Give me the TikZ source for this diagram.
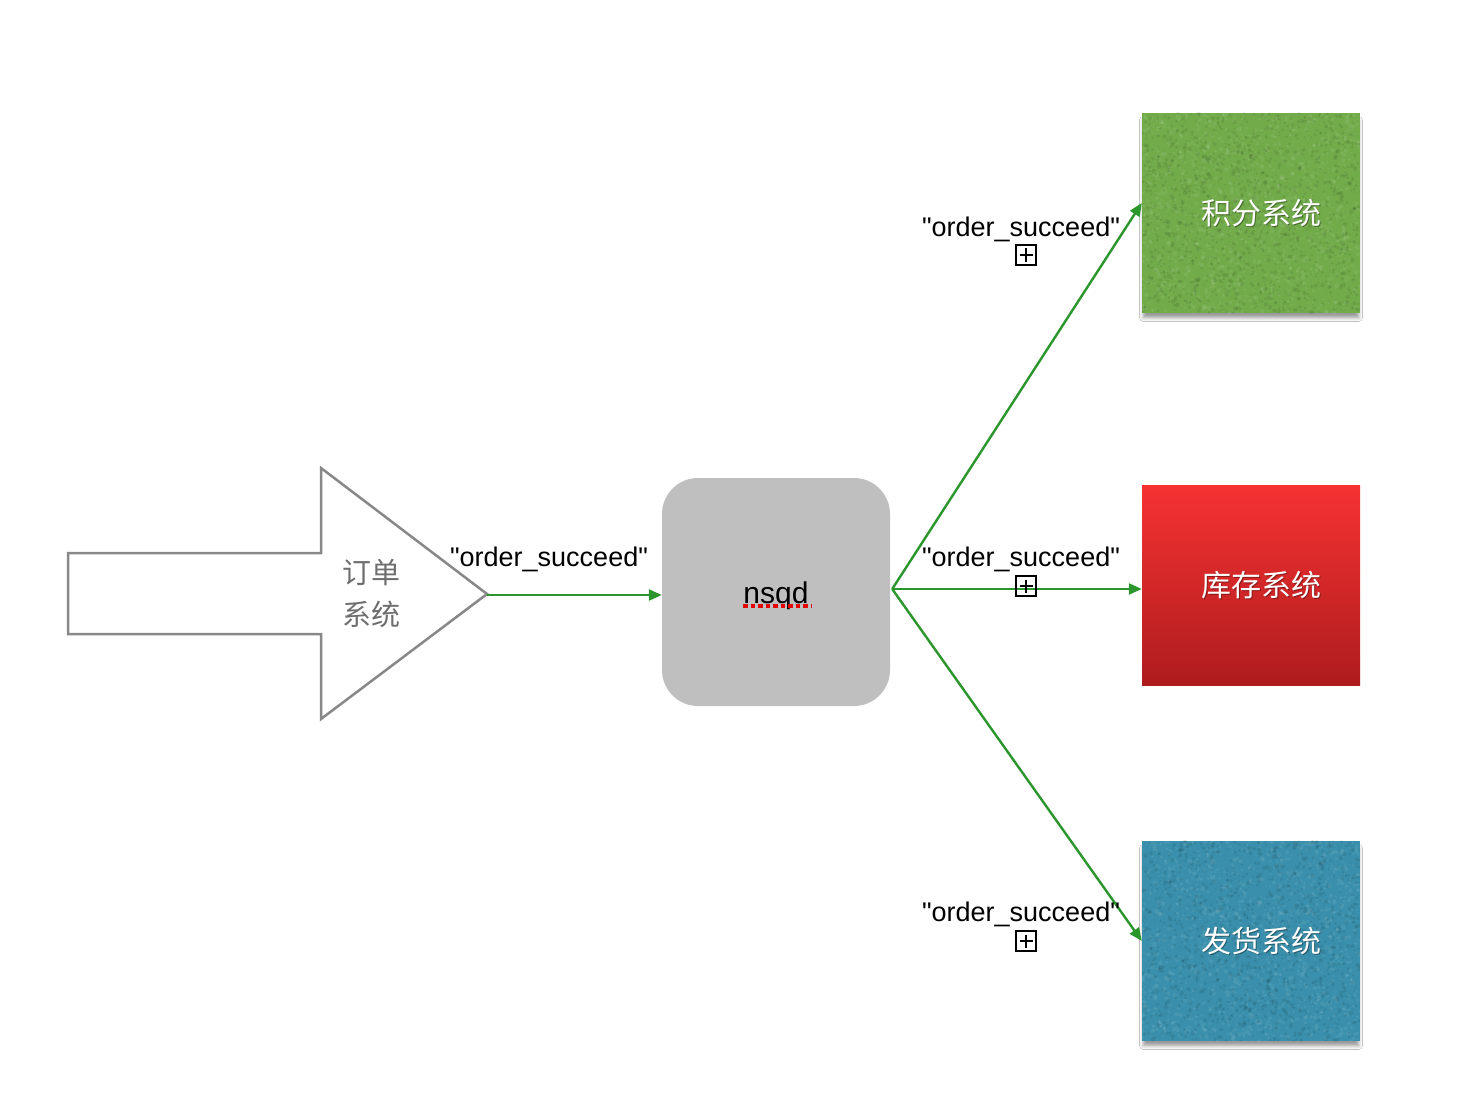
\documentclass[tikz,border=0pt]{standalone}
\usepackage{fontspec}
\setmainfont{Liberation Sans}
\newfontfamily\msgfont{Liberation Sans}
\newfontfamily\cjk{Noto Sans CJK SC}
\usetikzlibrary{arrows.meta,shadows.blur,calc}

\definecolor{flowgreen}{RGB}{42,150,44}
\definecolor{arrowgray}{RGB}{136,136,136}
\definecolor{labelgray}{RGB}{110,110,110}
\definecolor{nsqgray}{RGB}{191,191,191}
\definecolor{pointsgreen}{RGB}{114,172,74}
\definecolor{stockredtop}{RGB}{246,50,50}
\definecolor{stockredbot}{RGB}{174,28,30}
\definecolor{shipblue}{RGB}{58,144,172}

% speckled surface texture clipped to a node
\newcommand\grainfill[1]{%
  \begin{scope}
    \clip (#1.south west) rectangle (#1.north east);
    \foreach \k in {1,...,1400} {
      \pgfmathsetmacro\gx{rnd*218}
      \pgfmathsetmacro\gy{rnd*200}
      \pgfmathsetmacro\gr{0.7+rnd*1.5}
      \fill[black, opacity=0.08] ($(#1.north west)+(\gx,\gy)$) circle (\gr pt);
      \pgfmathsetmacro\hx{rnd*218}
      \pgfmathsetmacro\hy{rnd*200}
      \fill[white, opacity=0.07] ($(#1.north west)+(\hx,\hy)$) circle (\gr pt);
    }
  \end{scope}}

\begin{document}
\begin{tikzpicture}[x=1pt,y=-1pt,
  flow/.style={draw=flowgreen, line width=2.4pt, -{Triangle[length=13pt,width=11pt]}},
  sysbox/.style={minimum width=218pt, minimum height=200pt, inner sep=0pt},
  boxshadow/.style={blur shadow={shadow xshift=0pt, shadow yshift=-6pt, shadow scale=0.99, shadow blur radius=3.5pt, shadow opacity=40}},
  msg/.style={font=\msgfont\fontsize{27}{32}\selectfont, inner sep=0pt},
  plusbox/.style={draw, line width=2pt, minimum size=20pt, inner sep=0pt,
    path picture={\draw[line width=1.6pt] ($(path picture bounding box.center)+(-6.5,0)$) -- ($(path picture bounding box.center)+(6.5,0)$)
                                          ($(path picture bounding box.center)+(0,-6.5)$) -- ($(path picture bounding box.center)+(0,6.5)$);}},
  systext/.style={font=\cjk\fontsize{30}{36}\selectfont, text=white, inner sep=0pt},
  systextshade/.style={font=\cjk\fontsize{30}{36}\selectfont, text=black, opacity=0.35, inner sep=0pt},
]
\useasboundingbox (0,0) rectangle (1462,1110);
\fill[white] (0,0) rectangle (1462,1110);
\pgfmathsetseed{11}

% sending system: big hollow arrow
\draw[draw=arrowgray, line width=2.5pt, fill=white, line join=miter]
  (68,553) -- (321,553) -- (321,468) -- (487,594) -- (321,719) -- (321,634) -- (68,634) -- cycle;
\coordinate (src) at (487,595);
\node[font=\cjk\fontsize{29}{42}\selectfont, text=labelgray, align=center, inner sep=0pt]
  (srclabel) at (371,593) {订单\\系统};

% message queue
\node[fill=nsqgray, rounded corners=36pt, minimum width=228pt, minimum height=228pt, inner sep=0pt] (nsqd) at (776,592) {};
\node[font=\msgfont\fontsize{30}{36}\selectfont, inner sep=0pt] (nsqdtext) at (776,596) {nsqd};
\draw[red!90!black, line width=3.5pt, dash pattern=on 4.5pt off 3pt] (743,606) -- (811,606);

% consumer systems
\node[sysbox, fill=pointsgreen, boxshadow] (jifen) at (1251,213) {};
\grainfill{jifen}
\node[sysbox, top color=stockredtop, bottom color=stockredbot] (kucun) at (1251,585) {};
\node[sysbox, fill=shipblue, boxshadow] (fahuo) at (1251,941) {};
\grainfill{fahuo}

\foreach \n/\t in {jifen/积分系统, kucun/库存系统, fahuo/发货系统} {
  \node[systextshade] at ($(\n.center)+(11,1.5)$) {\t};
  \node[systext] (\n-label) at ($(\n.center)+(10,0)$) {\t};
}

% connectors
\coordinate (hub) at ($(nsqd.east)+(2,-3)$);
\draw[flow] (src) -- (src -| nsqd.west);
\draw[flow] (hub) -- ($(jifen.west)+(0,-10)$);
\draw[flow] (hub) -- (hub -| kucun.west);
\draw[flow] (hub) -- (fahuo.west);

% topic labels
\node[msg] (t0) at (549,559) {"order\_succeed"};
\node[msg] (t1) at (1021,229) {"order\_succeed"};
\node[msg] (t2) at (1021,559) {"order\_succeed"};
\node[msg] (t3) at (1021,914) {"order\_succeed"};
\node[plusbox] (p1) at (1026,255) {};
\node[plusbox] (p2) at (1026,586) {};
\node[plusbox] (p3) at (1026,941) {};
\end{tikzpicture}
\end{document}
